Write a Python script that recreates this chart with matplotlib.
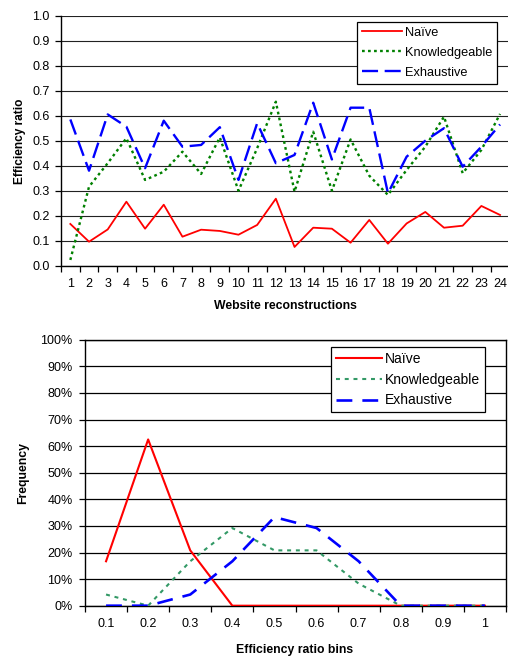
import matplotlib
matplotlib.use("Agg")
import matplotlib.pyplot as plt
import numpy as np

plt.rcParams['font.family'] = ['Liberation Sans', 'DejaVu Sans']

# ---------------- data ----------------
reconstructions = list(range(1, 25))
naive = [0.167, 0.096, 0.145, 0.256, 0.148, 0.244, 0.116, 0.144, 0.139, 0.124,
         0.163, 0.268, 0.075, 0.152, 0.148, 0.092, 0.183, 0.088, 0.169, 0.215,
         0.152, 0.160, 0.239, 0.203]
knowledgeable = [0.023, 0.316, 0.410, 0.510, 0.343, 0.376, 0.456, 0.367, 0.513, 0.300,
                 0.470, 0.656, 0.296, 0.536, 0.300, 0.505, 0.360, 0.283, 0.383, 0.476,
                 0.596, 0.370, 0.463, 0.607]
exhaustive = [0.585, 0.380, 0.605, 0.556, 0.390, 0.580, 0.476, 0.483, 0.554, 0.343,
              0.570, 0.410, 0.443, 0.652, 0.425, 0.632, 0.632, 0.290, 0.436, 0.500,
              0.550, 0.396, 0.476, 0.565]

bins = ["0.1", "0.2", "0.3", "0.4", "0.5", "0.6", "0.7", "0.8", "0.9", "1"]
freq_naive = [0.167, 0.625, 0.208, 0, 0, 0, 0, 0, 0, 0]
freq_knowledgeable = [0.042, 0, 0.167, 0.292, 0.208, 0.208, 0.083, 0, 0, 0]
freq_exhaustive = [0, 0, 0.042, 0.167, 0.333, 0.292, 0.167, 0, 0, 0]

series_names = ["Naïve", "Knowledgeable", "Exhaustive"]

W, H = 508, 663
fig = plt.figure(figsize=(W / 100, H / 100), dpi=100)

def px_axes(x0, y0, x1, y1):
    return fig.add_axes([x0 / W, 1 - y1 / H, (x1 - x0) / W, (y1 - y0) / H])

TICK_FS = 9

# ---------------- top chart ----------------
ax1 = px_axes(61, 15.7, 508, 265.7)
x = np.arange(1, 25)
ax1.plot(x, naive, color='#ff0000', lw=1.3, label=series_names[0], zorder=3)
ax1.plot(x, knowledgeable, color='#008000', lw=1.7, linestyle=(0, (1.15, 1.4)),
         dash_capstyle='butt', label=series_names[1], zorder=4)
ax1.plot(x, exhaustive, color='#0000ff', lw=1.7, linestyle=(0, (6.8, 2.8)),
         dash_capstyle='butt', label=series_names[2], zorder=5)

ax1.set_ylim(0, 1.0)
ax1.set_xlim(0.5, 0.5 + (508 - 61.3) / 18.67)
ax1.set_yticks(np.arange(0, 1.01, 0.1))
ax1.set_yticklabels([f"{v:.1f}" for v in np.arange(0, 1.01, 0.1)])
ax1.yaxis.grid(True, color='#222222', lw=0.8)
ax1.set_axisbelow(True)
ax1.set_xticks(np.arange(0.5, 24.5, 1))
ax1.set_xticklabels([])
ax1.set_xticks(x, minor=True)
ax1.set_xticklabels([str(i) for i in reconstructions], minor=True)
ax1.tick_params(axis='x', which='major', length=4, width=0.9, direction='out')
ax1.tick_params(axis='x', which='minor', length=0, pad=8.5, labelsize=TICK_FS)
ax1.tick_params(axis='y', length=4, width=0.9, pad=4, labelsize=TICK_FS)
ax1.spines['right'].set_visible(False)
ax1.spines['top'].set_visible(False)
for s in ['left', 'bottom']:
    ax1.spines[s].set_linewidth(1.0)
leg1 = ax1.legend(loc='upper left', bbox_to_anchor=(357 / W, 1 - 21.7 / H),
                  bbox_transform=fig.transFigure, borderaxespad=0,
                  fontsize=9.2, handlelength=3.1, handletextpad=0.25,
                  labelspacing=0.62, borderpad=0.4, fancybox=False,
                  framealpha=1, edgecolor='black')
leg1.get_frame().set_linewidth(0.9)

fig.text(20 / W, 1 - 141 / H, "Efficiency ratio", rotation=90, ha='center',
         va='center', fontsize=8.6, fontweight='bold')
fig.text(285 / W, 1 - 306 / H, "Website reconstructions", ha='center',
         va='center', fontsize=8.8, fontweight='bold')

# ---------------- bottom chart ----------------
ax2 = px_axes(85, 339.7, 506, 605.7)
xb = np.arange(1, 11)
ax2.plot(xb, freq_naive, color='#ff0000', lw=1.5, label=series_names[0], zorder=3)
ax2.plot(xb, freq_knowledgeable, color='#339966', lw=1.5, linestyle=(0, (1.9, 2.3)),
         dash_capstyle='butt', label=series_names[1], zorder=4)
ax2.plot(xb, freq_exhaustive, color='#0000ff', lw=1.9, linestyle=(0, (6.0, 3.8)),
         dash_capstyle='butt', label=series_names[2], zorder=5)
ax2.set_ylim(0, 1.0)
ax2.set_xlim(0.5, 10.5)
yt = np.arange(0, 1.01, 0.1)
ax2.set_yticks(yt)
ax2.set_yticklabels([f"{int(round(v * 100))}%" for v in yt])
ax2.yaxis.grid(True, color='black', lw=0.9)
ax2.set_axisbelow(True)
ax2.set_xticks(np.arange(0.5, 11, 1))
ax2.set_xticklabels([])
ax2.set_xticks(xb, minor=True)
ax2.set_xticklabels(bins, minor=True)
ax2.tick_params(axis='x', which='major', length=4, width=0.9, direction='out')
ax2.tick_params(axis='x', which='minor', length=0, pad=8.5, labelsize=TICK_FS)
ax2.tick_params(axis='y', length=4, width=0.9, pad=5, labelsize=TICK_FS)
for s in ['left', 'bottom', 'right', 'top']:
    ax2.spines[s].set_linewidth(1.0)
leg2 = ax2.legend(loc='upper left', bbox_to_anchor=(331 / W, 1 - 346.7 / H),
                  bbox_transform=fig.transFigure, borderaxespad=0,
                  fontsize=10, handlelength=3.3, handletextpad=0.25,
                  labelspacing=0.5, borderpad=0.35, fancybox=False,
                  framealpha=1, edgecolor='black')
leg2.get_frame().set_linewidth(0.9)

fig.text(23 / W, 1 - 473 / H, "Frequency", rotation=90, ha='center',
         va='center', fontsize=8.8, fontweight='bold')
fig.text(295 / W, 1 - 650 / H, "Efficiency ratio bins", ha='center',
         va='center', fontsize=8.8, fontweight='bold')

fig.savefig("out.png", dpi=100)
